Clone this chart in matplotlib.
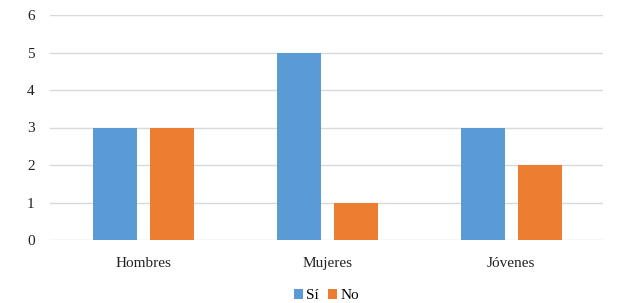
import matplotlib
matplotlib.use("Agg")
import matplotlib.pyplot as plt
import numpy as np

categories = ["Hombres", "Mujeres", "Jóvenes"]
si_values = [3, 5, 3]
no_values = [3, 1, 2]
series_labels = ["Sí", "No"]
yticks = [0, 1, 2, 3, 4, 5, 6]

plt.rcParams['font.family'] = ['Liberation Serif', 'DejaVu Serif']

fig = plt.figure(figsize=(6.26, 3.03), dpi=100)
ax = fig.add_axes([50/626, 1-240/303, 553/626, 225/303])

x = np.arange(len(categories))
w = 0.24
off = 0.155
ax.bar(x - off, si_values, w, color="#5B9BD5", label=series_labels[0], zorder=3)
ax.bar(x + off, no_values, w, color="#ED7D31", label=series_labels[1], zorder=3)

ax.set_xlim(-0.51, 2.5)
ax.set_ylim(0, 6)
ax.set_yticks(yticks)
ax.set_xticks(x)
ax.set_xticklabels(categories, fontsize=11, color="#222222")
ax.tick_params(axis='y', labelsize=11, labelcolor="#222222", length=0, pad=11)
ax.tick_params(axis='x', length=0, pad=12)
ax.grid(axis='y', color="#d9d9d9", linewidth=1, zorder=0)
for s in ax.spines.values():
    s.set_visible(False)

ax.legend(loc='upper center', bbox_to_anchor=(0.5, -0.19), ncol=2, frameon=False,
          fontsize=11, handlelength=0.6, handleheight=0.6, handletextpad=0.2,
          columnspacing=0.6, borderaxespad=0)

fig.savefig("out.png", dpi=100)
